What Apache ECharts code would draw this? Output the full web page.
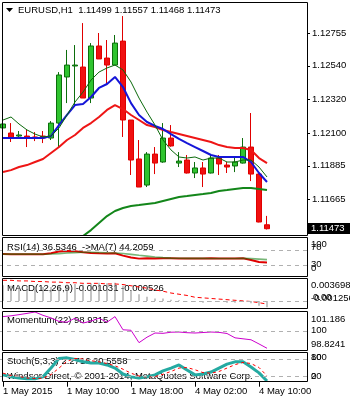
<!DOCTYPE html>
<html><head><meta charset="utf-8">
<script src="https://cdn.jsdelivr.net/npm/echarts@6/dist/echarts.min.js"></script>
<style>html,body{margin:0;padding:0;background:#fff}#c{width:350px;height:400px}</style>
</head><body><div id="c"></div>
<script>
// ---------------- DATA ----------------
const symbol = 'EURUSD,H1';
const times = ['1 May 00:00','1 May 01:00','1 May 02:00','1 May 03:00','1 May 04:00','1 May 05:00','1 May 06:00','1 May 07:00',
 '1 May 08:00','1 May 09:00','1 May 10:00','1 May 11:00','1 May 12:00','1 May 13:00','1 May 14:00','1 May 15:00',
 '1 May 16:00','1 May 17:00','1 May 18:00','1 May 19:00','1 May 20:00','1 May 21:00',
 '4 May 00:00','4 May 01:00','4 May 02:00','4 May 03:00','4 May 04:00','4 May 05:00','4 May 06:00','4 May 07:00',
 '4 May 08:00','4 May 09:00','4 May 10:00','4 May 11:00','4 May 12:00','4 May 13:00','4 May 14:00','4 May 15:00','4 May 16:00'];
const timeTickIdx = [0, 8, 16, 24, 32];
const timeTickText = ['1 May 2015', '1 May 10:00', '1 May 18:00', '4 May 02:00', '4 May 10:00'];
const priceTicks = [1.12755, 1.12540, 1.12320, 1.12100, 1.11885, 1.11665];

const opens  = [1.12133,1.12100,1.12080,1.12080,1.12074,1.12080,1.12067,1.12165,1.12467,1.12539,1.12532,1.12329,1.12670,1.12591,1.12545,1.12702,1.12185,1.11930,1.11759,1.11962,1.11910,1.12067,1.11903,1.11923,1.11838,1.11871,1.11838,1.11936,1.11890,1.11884,1.11903,1.12008,1.11831,1.11499];
const closes = [1.12159,1.12067,1.12087,1.12074,1.12071,1.12067,1.12165,1.12480,1.12545,1.12545,1.12329,1.12670,1.12585,1.12545,1.12689,1.12185,1.11923,1.11746,1.11962,1.11903,1.12067,1.12015,1.11916,1.11838,1.11871,1.11831,1.11936,1.11897,1.11877,1.11910,1.12008,1.11831,1.11517,1.11473];
const lows   = [1.12120,1.12041,1.12061,1.12008,1.12047,1.12034,1.12054,1.12008,1.12296,1.12283,1.12329,1.12296,1.12585,1.12414,1.12545,1.12074,1.11825,1.11746,1.11746,1.11831,1.11905,1.12010,1.11877,1.11835,1.11805,1.11746,1.11835,1.11825,1.11838,1.11844,1.11900,1.11785,1.11515,1.11468];
const highs  = [1.12178,1.12165,1.12113,1.12120,1.12106,1.12113,1.12178,1.12499,1.12644,1.12676,1.12820,1.12689,1.12755,1.12709,1.12742,1.12866,1.12185,1.12054,1.11975,1.12008,1.12165,1.12152,1.11975,1.11956,1.11910,1.11910,1.11956,1.11956,1.11910,1.11943,1.12067,1.12231,1.11835,1.11557];

const maBlue = [1.12067,1.12067,1.12067,1.12067,1.12067,1.12067,1.12080,1.12152,1.12218,1.12283,1.12290,1.12336,1.12395,1.12421,1.12467,1.12401,1.12296,1.12218,1.12172,1.12146,1.12126,1.12093,1.12061,1.12034,1.12008,1.11982,1.11956,1.11943,1.11943,1.11943,1.11943,1.11910,1.11838,1.11779];
const maRed  = [1.11844,1.11857,1.11877,1.11890,1.11910,1.11930,1.11969,1.12008,1.12054,1.12087,1.12133,1.12165,1.12205,1.12251,1.12283,1.12257,1.12218,1.12185,1.12152,1.12139,1.12120,1.12106,1.12093,1.12080,1.12067,1.12054,1.12041,1.12021,1.12008,1.12002,1.12002,1.11989,1.11936,1.11903];
const maLong = [null,null,null,null,null,null,null,1.11281,1.11327,1.11373,1.11425,1.11464,1.11510,1.11556,1.11589,1.11609,1.11622,1.11628,1.11635,1.11642,1.11655,1.11668,1.11681,1.11687,1.11694,1.11700,1.11707,1.11720,1.11726,1.11733,1.11739,1.11739,1.11733,1.11726];
const maFast = [1.12185,1.12205,1.12159,1.12120,1.12093,1.12074,1.12080,1.12133,1.12218,1.12303,1.12368,1.12447,1.12499,1.12526,1.12545,1.12513,1.12434,1.12329,1.12237,1.12152,1.12054,1.11989,1.11943,1.11936,1.11943,1.11923,1.11936,1.11936,1.11910,1.11910,1.11923,1.11923,1.11877,1.11812];

const rsi   = [59.2,58.8,59.0,58.6,58.9,58.7,61.5,65.8,67.4,66.9,64.2,62.0,61.3,60.8,61.5,55.0,50.2,47.0,47.8,47.5,48.3,47.9,47.5,47.2,47.6,47.3,47.8,47.5,47.4,47.6,48.0,43.5,38.0,36.5346];
const rsiMa = [59.0,59.0,59.0,58.9,58.9,58.8,59.2,60.4,61.9,63.1,63.8,63.9,63.3,62.6,62.0,60.5,58.4,55.9,53.6,51.4,49.6,48.3,47.9,47.7,47.6,47.6,47.5,47.5,47.5,47.5,47.6,47.0,45.6,44.2059];
const rsiLevels = [70, 30];

const macdMain   = [0.0026,0.0025,0.0025,0.0024,0.0024,0.0023,0.0023,0.0025,0.0027,0.0028,0.0027,0.0029,0.0030,0.0029,0.0030,0.0025,0.0018,0.0011,0.0007,0.0004,0.0004,0.0002,0.0001,-0.0001,-0.0002,-0.0003,-0.0002,-0.0002,-0.0003,-0.0003,-0.0002,-0.0004,-0.0008,-0.001031];
const macdSignal = [0.0034,0.0034,0.0033,0.0033,0.0032,0.0032,0.0031,0.0031,0.0030,0.0030,0.0029,0.0029,0.0029,0.0028,0.0028,0.0027,0.0025,0.0023,0.0021,0.0018,0.0016,0.0013,0.0011,0.0009,0.0006,0.0005,0.0004,0.0003,0.0002,0.0001,0.0000,-0.0001,-0.0003,-0.000526];
const macdRange = [-0.001256, 0.003698];

const momentum = [100.90,100.95,101.02,101.10,101.186,100.98,100.82,100.60,100.55,100.80,100.50,100.62,100.80,100.55,100.90,100.08,100.05,99.28,99.62,99.88,99.86,99.93,99.94,99.90,99.88,99.91,99.94,99.92,99.85,99.58,99.52,99.46,99.20,98.9315];
const momRange = [98.8241, 101.186];

const stochMain   = [24,17,13,10,10,17,48,82,84,78,70,66,66,59,48,27,17,13,17,24,38,48,59,41,24,27,34,48,62,70,70,52,31,2.2716];
const stochSignal = [30,22,18,13,11,12,25,48,72,82,80,74,70,64,56,44,30,20,16,18,26,36,48,50,42,32,30,36,48,60,68,64,50,20.5558];
const stochLevels = [80, 20];

// ---------------- CHART ----------------
const FONT = 'Liberation Sans';
const FS = 9.5;
const n = times.length;
const candles = opens.map((o, i) => [o, closes[i], lows[i], highs[i]]);
const last = candles.length - 1;

const gridDefs = [
  {top: 3, height: 232},
  {top: 238.75, height: 37.5},
  {top: 278.5, height: 30},
  {top: 312, height: 38},
  {top: 353.3, height: 28.4}
];
const grid = gridDefs.map(g => ({left: -1, width: 8 * n, top: g.top, height: g.height, containLabel: false, outerBoundsMode: 'none'}));

const xAxis = grid.map((g, i) => {
  const isLast = i === grid.length - 1;
  return {
    type: 'category', gridIndex: i, data: times, boundaryGap: true,
    axisLine: {show: false},
    splitLine: {show: false},
    axisTick: {show: isLast, alignWithLabel: true, length: 5, lineStyle: {color: '#000'},
      interval: (idx) => timeTickIdx.includes(idx)},
    axisLabel: {show: isLast, interval: (idx) => timeTickIdx.includes(idx), align: 'left', margin: 5,
      color: '#000', fontFamily: FONT, fontSize: FS,
      formatter: (v, idx) => { const k = timeTickIdx.indexOf(idx); return k >= 0 ? timeTickText[k] : ''; }}
  };
});

const hiddenY = (gi, min, max) => ({type: 'value', gridIndex: gi, min, max, show: false, splitLine: {show: false}});
const yAxis = [
  {type: 'value', gridIndex: 0, position: 'right', offset: -4, min: 1.114319, max: 1.129515, scale: true,
   axisLine: {show: false}, splitLine: {show: false},
   axisTick: {show: true, length: 3, customValues: priceTicks, lineStyle: {color: '#000'}},
   axisLabel: {show: true, customValues: priceTicks, margin: 5, color: '#000', fontFamily: FONT, fontSize: FS,
     formatter: v => v.toFixed(5)}},
  hiddenY(1, 0, 100),
  hiddenY(2, macdRange[0], macdRange[1]),
  hiddenY(3, momRange[0], momRange[1]),
  hiddenY(4, 0, 100)
];

const levelLine = (vals) => ({silent: true, symbol: 'none', label: {show: false},
  lineStyle: {color: '#b0b0b0', type: [4, 4], width: 1}, data: vals.map(v => ({yAxis: v}))});
const line = (gi, data, color, width, extra) => Object.assign({type: 'line', xAxisIndex: gi, yAxisIndex: gi, data,
  symbol: 'none', smooth: false, silent: true, lineStyle: {color, width}, z: 3}, extra || {});

const series = [
  {type: 'candlestick', xAxisIndex: 0, yAxisIndex: 0, data: candles, barWidth: 5, silent: true,
   itemStyle: {color: '#2fc42f', color0: '#f01010', borderColor: '#0c6e0c', borderColor0: '#e00000', borderWidth: 1},
   markLine: {silent: true, symbol: 'none', label: {show: false}, lineStyle: {color: '#c0c0c0', type: 'solid', width: 1},
     data: [{yAxis: closes[last]}]}},
  line(0, maLong, '#13861a', 2),
  line(0, maRed, '#ee1515', 2),
  line(0, maBlue, '#1515d8', 2),
  line(0, maFast, '#0b6a0b', 1),
  line(1, rsi, '#e00000', 2, {markLine: levelLine(rsiLevels)}),
  line(1, rsiMa, '#0a7a0a', 2, {lineStyle: {color: '#0a7a0a', width: 1.6, opacity: 0.55}}),
  {type: 'bar', xAxisIndex: 2, yAxisIndex: 2, data: macdMain, barWidth: 1, silent: true, itemStyle: {color: '#8a8a8a'},
   markLine: levelLine([0])},
  line(2, macdSignal, '#ff0000', 1, {lineStyle: {color: '#ff0000', width: 1, type: [4, 3]}}),
  line(3, momentum, '#cc00cc', 1, {markLine: levelLine([100])}),
  line(4, stochMain, '#25aaa2', 3, {markLine: levelLine(stochLevels)}),
  line(4, stochSignal, '#ff0000', 1, {lineStyle: {color: '#ff0000', width: 1, type: [3, 3]}})
];

const txt = (x, y, text, extra) => Object.assign({type: 'text', x, y, z: 1, silent: true,
  style: Object.assign({text, fill: '#000', font: FS + 'px "' + FONT + '"', textVerticalAlign: 'middle', verticalAlign: 'middle'}, (extra && extra.style) || {})},
  extra && extra.z != null ? {z: extra.z} : {});
const frame = (y, h) => ({type: 'rect', z: 100, silent: true, shape: {x: 2.5, y, width: 305, height: h},
  style: {fill: null, stroke: '#000', lineWidth: 1}});

const f5 = v => v.toFixed(5), f4 = v => v.toFixed(4), f6 = v => v.toFixed(6);
const graphic = [
  frame(2.5, 233), frame(237.5, 39), frame(278.5, 30), frame(311.5, 39), frame(352.5, 29),
  {type: 'polygon', z: 5, silent: true, shape: {points: [[6, 8], [13, 8], [9.5, 12]]}, style: {fill: '#000'}},
  txt(18, 10, symbol + '  ' + [opens[last], highs[last], lows[last], closes[last]].map(f5).join(' ')),
  {type: 'rect', z: 50, silent: true, shape: {x: 308, y: 223, width: 42, height: 11}, style: {fill: '#000'}},
  txt(311, 228.5, f5(closes[last]), {z: 51, style: {fill: '#fff'}}),
  txt(7, 247, 'RSI(14) ' + f4(rsi[last]) + '  ->MA(7) ' + f4(rsiMa[last])),
  txt(7, 288, 'MACD(12,26,9) ' + f6(macdMain[last]) + ' ' + f6(macdSignal[last])),
  txt(7, 320, 'Momentum(22) ' + f4(momentum[last])),
  txt(7, 361, 'Stoch(5,3,3) ' + f4(stochMain[last]) + ' ' + f4(stochSignal[last])),
  txt(7, 376, 'Windsor Direct, \u00a9 2001-2014, MetaQuotes Software Corp.'),
  txt(311, 244.5, '100'), txt(311, 247.5, String(rsiLevels[0])), txt(311, 264.5, String(rsiLevels[1])), txt(311, 268, '0'),
  txt(311, 285, f6(macdRange[1])), txt(311, 298, f6(macdRange[0])), txt(313, 297, '0.00'),
  txt(311, 319, macdRange ? momRange[1].toFixed(3) : ''), txt(311, 330.5, '100'), txt(311, 344, f4(momRange[0])),
  txt(311, 357, '100'), txt(311, 357, String(stochLevels[0])), txt(311, 376, String(stochLevels[1])), txt(311, 376, '0')
];

const chart = echarts.init(document.getElementById('c'), null, {renderer: 'canvas'});
chart.setOption({animation: false, backgroundColor: '#fff', grid, xAxis, yAxis, series, graphic});
</script></body></html>
